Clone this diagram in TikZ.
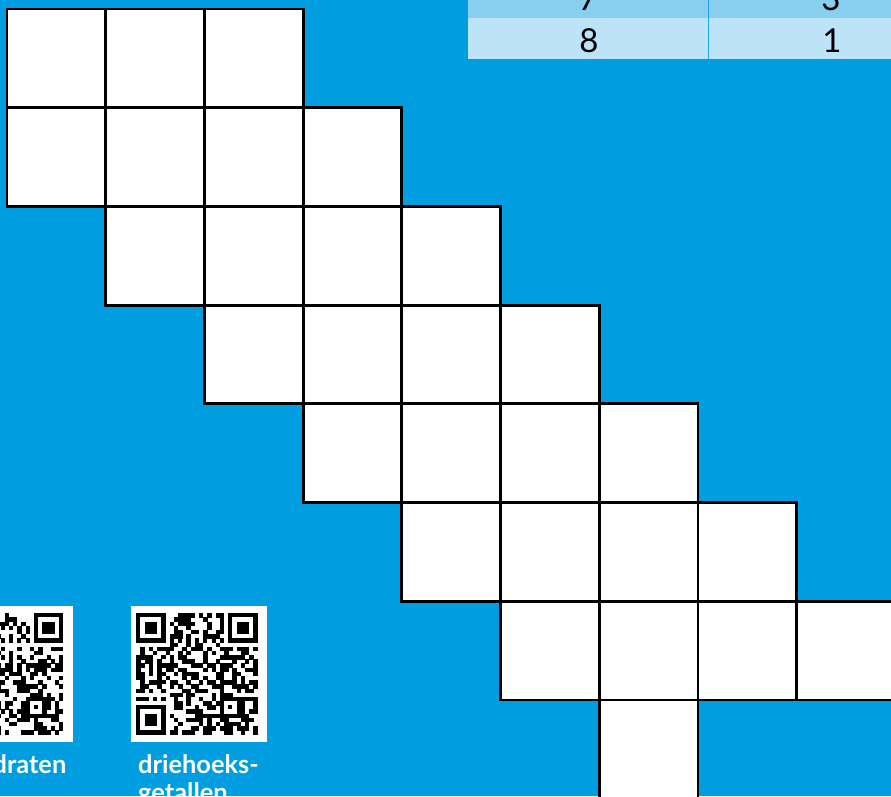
\documentclass[tikz,border=0pt]{standalone}
\usepackage{fontspec}
\setmainfont{Lato}
\definecolor{bg}{HTML}{009EE0}
\definecolor{rowA}{HTML}{87CEEF}
\definecolor{rowB}{HTML}{BDE3F6}
\definecolor{divc}{HTML}{1AA5E6}
\tikzset{
  cellfill/.style={fill=white},
  cellline/.style={draw=black, line width=2.8pt, line join=miter},
  digit/.style={inner sep=0pt, font=\fontsize{33}{36}\selectfont, text=black, anchor=base},
  lab/.style={inner sep=0pt, font=\fontsize{25.4}{28}\selectfont\bfseries, text=white},
}
\newcommand\qrpic[3]{%
  \begin{scope}[shift={(#1,#2)}, x=4.18pt, y=-4.18pt]
    \pgfmathsetseed{#3}
    \foreach \i in {0,...,28}{\foreach \j in {0,...,28}{%
      \pgfmathrandominteger{\qrr}{0}{1}%
      \pgfmathtruncatemacro\qrres{((\i<8)&&(\j<8))||((\i>20)&&(\j<8))||((\i<8)&&(\j>20))||((\i>19)&&(\i<25)&&(\j>19)&&(\j<25))||(\i==6)||(\j==6)}%
      \ifnum\qrres=0 \ifnum\qrr=1 \fill[black] (\i,\j) rectangle ++(1.06,1.06);\fi\fi
    }}
    \foreach \a/\b in {0/0,22/0,0/22}{%
      \fill[black] (\a,\b) rectangle ++(7,7);
      \fill[white] (\a+1,\b+1) rectangle ++(5,5);
      \fill[black] (\a+2,\b+2) rectangle ++(3,3);
    }
    \fill[black] (20,20) rectangle ++(5,5);
    \fill[white] (21,21) rectangle ++(3,3);
    \fill[black] (22,22) rectangle ++(1,1);
    \foreach \k in {8,10,...,20}{%
      \fill[black] (\k,6) rectangle ++(1,1);
      \fill[black] (6,\k) rectangle ++(1,1);
    }
  \end{scope}}
\begin{document}
\begin{tikzpicture}[x=1pt, y=-1pt]
\useasboundingbox (0,0) rectangle (891,796);
\begin{scope}
\clip (0,0) rectangle (891,796);
\fill[bg] (0,0) rectangle (891,796);
% table
\fill[rowA] (468,-30) rectangle (891,18.3);
\fill[rowB] (468,18.3) rectangle (891,58.5);
\draw[divc, line width=1pt] (708,-30) -- (708,58.5);
\node[digit] (t7) at (588,10) {7};
\node[digit] (t3) at (831,10) {3};
\node[digit] (t8) at (589,52) {8};
\node[digit] (t1) at (832,52) {1};
% grid
\def\s{98.72}
\foreach \r/\a/\b in {0/0/2,1/0/3,2/1/4,3/2/5,4/3/6,5/4/7,6/5/8,7/6/6}{
  \foreach \c in {\a,...,\b}{
    \fill[cellfill] ({7+\c*\s},{9+\r*\s}) rectangle ++(\s,\s);
  }
}
\foreach \r/\a/\b in {0/0/2,1/0/3,2/1/4,3/2/5,4/3/6,5/4/7,6/5/8,7/6/6}{
  \foreach \c in {\a,...,\b}{
    \draw[cellline] ({7+\c*\s},{9+\r*\s}) rectangle ++(\s,\s);
  }
}
% QR codes
\fill[white] (-63.6,606) rectangle (73.3,742);
\qrpic{-58}{613.3}{17}
\fill[white] (130.7,606) rectangle (267.3,742);
\qrpic{136.3}{613.3}{29}
% labels
\node[lab, anchor=base east] (l1) at (66.5,773) {draten};
\node[lab, anchor=base west] (l2) at (138,773) {driehoeks-};
\node[lab, anchor=base west] (l3) at (138,801) {getallen};
\end{scope}
\end{tikzpicture}
\end{document}
